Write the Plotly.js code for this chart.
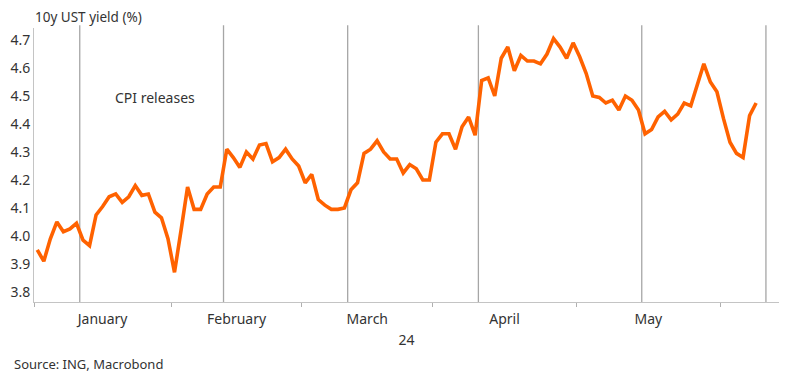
<!DOCTYPE html>
<html><head><meta charset="utf-8">
<script src="https://cdn.plot.ly/plotly-3.0.1.min.js"></script>
<style>html,body{margin:0;padding:0;background:#fff}#chart{width:800px;height:384px}</style>
</head><body><div id="chart"></div>
<script>
// Trading days (US bond market) shown on the axis, Jan 2 – Jun 12, 2024
const tradingDays = [
  '2024-01-02','2024-01-03','2024-01-04','2024-01-05','2024-01-08','2024-01-09','2024-01-10','2024-01-11','2024-01-12','2024-01-16','2024-01-17','2024-01-18','2024-01-19','2024-01-22','2024-01-23','2024-01-24','2024-01-25','2024-01-26','2024-01-29','2024-01-30','2024-01-31',
  '2024-02-01','2024-02-02','2024-02-05','2024-02-06','2024-02-07','2024-02-08','2024-02-09','2024-02-12','2024-02-13','2024-02-14','2024-02-15','2024-02-16','2024-02-20','2024-02-21','2024-02-22','2024-02-23','2024-02-26','2024-02-27','2024-02-28','2024-02-29',
  '2024-03-01','2024-03-04','2024-03-05','2024-03-06','2024-03-07','2024-03-08','2024-03-11','2024-03-12','2024-03-13','2024-03-14','2024-03-15','2024-03-18','2024-03-19','2024-03-20','2024-03-21','2024-03-22','2024-03-25','2024-03-26','2024-03-27','2024-03-28',
  '2024-04-01','2024-04-02','2024-04-03','2024-04-04','2024-04-05','2024-04-08','2024-04-09','2024-04-10','2024-04-11','2024-04-12','2024-04-15','2024-04-16','2024-04-17','2024-04-18','2024-04-19','2024-04-22','2024-04-23','2024-04-24','2024-04-25','2024-04-26','2024-04-29','2024-04-30',
  '2024-05-01','2024-05-02','2024-05-03','2024-05-06','2024-05-07','2024-05-08','2024-05-09','2024-05-10','2024-05-13','2024-05-14','2024-05-15','2024-05-16','2024-05-17','2024-05-20','2024-05-21','2024-05-22','2024-05-23','2024-05-24','2024-05-28','2024-05-29','2024-05-30','2024-05-31',
  '2024-06-03','2024-06-04','2024-06-05','2024-06-06','2024-06-07','2024-06-10','2024-06-11','2024-06-12'
];

// 10y UST yield (%), one value per trading day from Jan 2 to Jun 10
const yields = [
  3.95, 3.91, 3.99, 4.05, 4.015, 4.025, 4.045, 3.985, 3.965, 4.075, 4.105, 4.14, 4.15, 4.12, 4.14, 4.18, 4.145, 4.15, 4.085, 4.065, 3.99,
  3.87, 4.02, 4.175, 4.095, 4.095, 4.15, 4.175, 4.175, 4.31, 4.28, 4.245, 4.30, 4.275, 4.325, 4.33, 4.265, 4.28, 4.31, 4.275, 4.25,
  4.19, 4.22, 4.13, 4.11, 4.095, 4.095, 4.10, 4.165, 4.19, 4.295, 4.31, 4.34, 4.30, 4.275, 4.275, 4.225, 4.255, 4.24, 4.20, 4.20,
  4.335, 4.365, 4.365, 4.31, 4.39, 4.425, 4.36, 4.555, 4.565, 4.50, 4.635, 4.675, 4.59, 4.645, 4.625, 4.625, 4.615, 4.65, 4.705, 4.675, 4.635, 4.69,
  4.64, 4.58, 4.50, 4.495, 4.475, 4.485, 4.45, 4.50, 4.485, 4.45, 4.365, 4.38, 4.425, 4.445, 4.415, 4.435, 4.475, 4.465, 4.545, 4.615, 4.55, 4.515,
  4.42, 4.335, 4.295, 4.28, 4.43, 4.475
];

const cpiReleaseDates = ['2024-01-11','2024-02-13','2024-03-12','2024-04-10','2024-05-15','2024-06-12'];
const monthNames = ['January','February','March','April','May'];
const yTickVals = [3.8, 3.9, 4.0, 4.1, 4.2, 4.3, 4.4, 4.5, 4.6, 4.7];
const yearLabel = '24';
const chartTitle = '10y UST yield (%)';
const cpiLabel = 'CPI releases';
const sourceText = 'Source: ING, Macrobond';

// ---- derived positions through the trading-day index scale ----
const xIndex = d => tradingDays.indexOf(d);
const pointX = yields.map((v, i) => xIndex(tradingDays[i]));

// month boundaries (between last day of one month and first of the next)
const bounds = [];
let prevMonth = null;
tradingDays.forEach((d, i) => {
  const m = d.slice(0, 7);
  if (m !== prevMonth) { bounds.push(i - 0.5); prevMonth = m; }
});
const mids = monthNames.map((n, k) => (bounds[k] + bounds[k + 1]) / 2);

const textColor = '#333333';
const fontFamily = 'Noto Sans, Open Sans, sans-serif';

const trace = {
  x: pointX,
  y: yields,
  type: 'scatter',
  mode: 'lines',
  line: { color: '#FF6200', width: 3.6 },
  hoverinfo: 'skip'
};

const shapes = cpiReleaseDates.map(d => ({
  type: 'line', xref: 'x', yref: 'paper',
  x0: xIndex(d) - 0.5, x1: xIndex(d) - 0.5, y0: 0, y1: 1.01,
  line: { color: '#a6a6a6', width: 1.3 }, layer: 'below'
}));

const layout = {
  width: 800, height: 384,
  margin: { l: 34, r: 21, t: 28, b: 82 },
  paper_bgcolor: '#ffffff', plot_bgcolor: '#ffffff',
  font: { family: fontFamily, size: 14, color: textColor },
  showlegend: false,
  title: {
    text: chartTitle, x: 35 / 800, xanchor: 'left', xref: 'container',
    y: 1 - 17 / 384, yanchor: 'middle', yref: 'container',
    font: { family: fontFamily, size: 13.5, color: textColor }
  },
  xaxis: {
    range: [-0.5, tradingDays.length + 0.5],
    tickmode: 'array', tickvals: mids, ticktext: monthNames,
    ticks: '', showgrid: false, zeroline: false,
    showline: true, linecolor: '#c4c4c4', linewidth: 1,
    tickfont: { size: 14, color: textColor },
    ticklabelstandoff: 4,
    minor: { tickmode: 'array', tickvals: bounds, ticks: 'outside', ticklen: 4, tickcolor: '#b0b0b0', tickwidth: 1, showgrid: false },
    title: { text: yearLabel, standoff: 8, font: { size: 14, color: textColor } },
    fixedrange: true
  },
  yaxis: {
    range: [3.764, 4.743],
    tickmode: 'array', tickvals: yTickVals, ticktext: yTickVals.map(v => v.toFixed(1)),
    ticks: '', showgrid: false, zeroline: false,
    showline: true, linecolor: '#c4c4c4', linewidth: 1,
    tickfont: { size: 14, color: textColor },
    fixedrange: true
  },
  shapes: shapes,
  annotations: [
    { text: cpiLabel, xref: 'x', yref: 'y', x: 11.6, y: 4.493, xanchor: 'left', yanchor: 'middle',
      showarrow: false, font: { size: 14, color: textColor } },
    { text: sourceText, xref: 'paper', yref: 'paper', x: (12 - 34) / 745, y: (302 - 364) / 274,
      xanchor: 'left', yanchor: 'middle', showarrow: false, font: { size: 13, color: textColor } }
  ]
};

Plotly.newPlot('chart', [trace], layout, { displayModeBar: false, staticPlot: true });
</script>
</body></html>
